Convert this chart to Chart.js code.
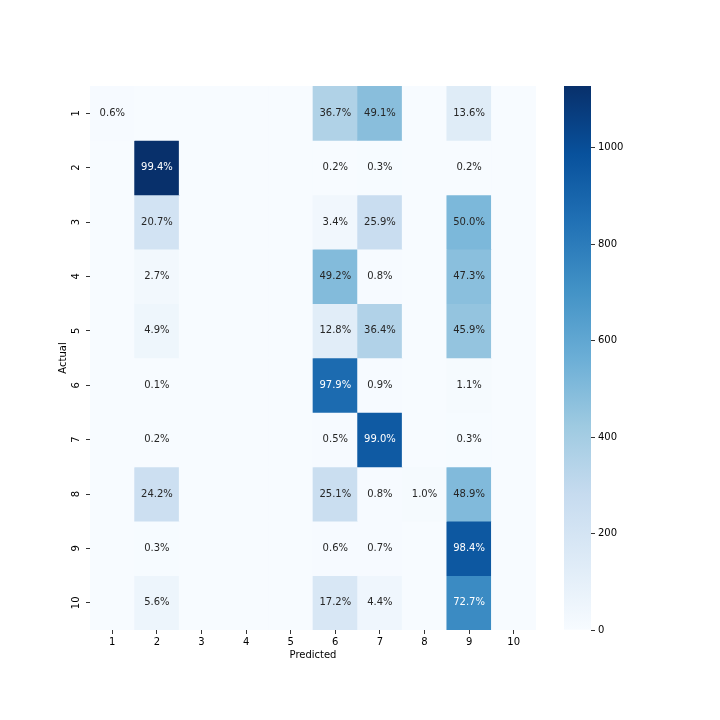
<!DOCTYPE html>
<html>
<head>
<meta charset="utf-8">
<script src="https://cdn.jsdelivr.net/npm/chart.js@4"></script>
<style>
  body { margin: 0; background: #fff; }
  #wrap { position: relative; width: 720px; height: 720px; }
  #heat { position: absolute; left: 0; top: 0; }
  #cbar { position: absolute; left: 540px; top: 0; }
</style>
</head>
<body>
<div id="wrap">
  <canvas id="heat" width="560" height="720"></canvas>
  <canvas id="cbar" width="180" height="720"></canvas>
</div>
<script>
// predicted classes (columns) and actual classes (rows)
var colLabels = ["1","2","3","4","5","6","7","8","9","10"];
var rowLabels = ["1","2","3","4","5","6","7","8","9","10"];

// counts per actual row
var row1  = [6, 0, 0, 0, 0, 360, 481, 0, 133, 0];
var row2  = [0, 1128, 0, 0, 0, 2, 3, 0, 2, 0];
var row3  = [0, 214, 0, 0, 0, 35, 267, 0, 516, 0];
var row4  = [0, 27, 0, 0, 0, 497, 8, 0, 478, 0];
var row5  = [0, 48, 0, 0, 0, 126, 357, 0, 451, 0];
var row6  = [0, 1, 0, 0, 0, 873, 8, 0, 10, 0];
var row7  = [0, 2, 0, 0, 0, 5, 948, 0, 3, 0];
var row8  = [0, 249, 0, 0, 0, 258, 8, 10, 503, 0];
var row9  = [0, 3, 0, 0, 0, 6, 7, 0, 958, 0];
var row10 = [0, 57, 0, 0, 0, 174, 44, 0, 734, 0];
var rows = [row1, row2, row3, row4, row5, row6, row7, row8, row9, row10];

var cbarTicks = [0, 200, 400, 600, 800, 1000];

// matplotlib "Blues"
var blues = [
  [247,251,255],[222,235,247],[198,219,239],[158,202,225],[107,174,214],
  [66,146,198],[33,113,181],[8,81,156],[8,48,107]
];
var vmax = Math.max.apply(null, rows.map(function (r) { return Math.max.apply(null, r); }));

function bluesRGB(t) {
  t = Math.min(1, Math.max(0, t));
  var p = t * (blues.length - 1);
  var i = Math.min(blues.length - 2, Math.floor(p));
  var f = p - i;
  return blues[i].map(function (c, k) { return Math.round(c + (blues[i + 1][k] - c) * f); });
}
function rgbStr(c) { return "rgb(" + c[0] + "," + c[1] + "," + c[2] + ")"; }
function lum(c) {
  var v = c.map(function (x) {
    x = x / 255;
    return x <= 0.03928 ? x / 12.92 : Math.pow((x + 0.055) / 1.055, 2.4);
  });
  return 0.2126 * v[0] + 0.7152 * v[1] + 0.0722 * v[2];
}

Chart.defaults.font.family = "DejaVu Sans";
Chart.defaults.font.size = 10;
Chart.defaults.color = "#000";

var datasets = rows.map(function (r, i) {
  return {
    label: rowLabels[i],
    data: r.map(function () { return 1; }),
    backgroundColor: r.map(function (v) { return rgbStr(bluesRGB(v / vmax)); }),
    borderWidth: 0,
    barPercentage: 1,
    categoryPercentage: 1
  };
});

// percentage labels in each non-empty cell
var annotate = {
  id: "annotate",
  afterDatasetsDraw: function (chart) {
    var ctx = chart.ctx;
    ctx.save();
    ctx.font = "10px 'DejaVu Sans'";
    ctx.textAlign = "center";
    ctx.textBaseline = "middle";
    rows.forEach(function (r, i) {
      var total = r.reduce(function (a, b) { return a + b; }, 0);
      var meta = chart.getDatasetMeta(i);
      r.forEach(function (v, j) {
        if (!v) return;
        var el = meta.data[j];
        var c = bluesRGB(v / vmax);
        ctx.fillStyle = lum(c) > 0.408 ? "#262626" : "#fff";
        ctx.fillText((v / total * 100).toFixed(1) + "%", el.x, (el.y + el.base) / 2);
      });
    });
    ctx.restore();
  }
};

var ctx = document.getElementById("heat").getContext("2d");
var heat = new Chart(ctx, {
  type: "bar",
  data: { labels: colLabels, datasets: datasets },
  options: {
    responsive: false,
    animation: false,
    devicePixelRatio: 1,
    layout: { padding: { left: 57, top: 86, right: 24, bottom: 59 } },
    plugins: { legend: { display: false }, tooltip: { enabled: false } },
    scales: {
      x: {
        stacked: true,
        offset: true,
        grid: { offset: false, drawOnChartArea: false, tickLength: 4, color: "#000", tickWidth: 0.8 },
        border: { display: false },
        ticks: { padding: 2, maxRotation: 0 },
        title: { display: true, text: "Predicted", padding: 0 },
        afterFit: function (s) { s.height = 31; }
      },
      y: {
        stacked: true,
        reverse: true,
        min: 0,
        max: 10,
        grid: { drawOnChartArea: false, tickLength: 4, color: "#000", tickWidth: 0.8 },
        border: { display: false },
        afterBuildTicks: function (s) {
          s.ticks = rowLabels.map(function (l, i) { return { value: i + 0.5 }; });
        },
        ticks: {
          minRotation: 90,
          maxRotation: 90,
          crossAlign: "center",
          padding: 3,
          callback: function (v) { return rowLabels[Math.round(v - 0.5)]; }
        },
        title: { display: true, text: "Actual", padding: 0 },
        afterFit: function (s) { s.width = 33; }
      }
    }
  },
  plugins: [annotate]
});

// colour bar
var ctx2 = document.getElementById("cbar").getContext("2d");
var cbar = new Chart(ctx2, {
  type: "bar",
  data: {
    labels: [""],
    datasets: [{
      data: [[0, vmax]],
      borderWidth: 0,
      barPercentage: 1,
      categoryPercentage: 1,
      backgroundColor: function (c) {
        var area = c.chart.chartArea;
        if (!area) return "#fff";
        var g = c.chart.ctx.createLinearGradient(0, area.bottom, 0, area.top);
        blues.forEach(function (b, k) { g.addColorStop(k / (blues.length - 1), rgbStr(b)); });
        return g;
      }
    }]
  },
  options: {
    responsive: false,
    animation: false,
    devicePixelRatio: 1,
    layout: { padding: { left: 24, top: 86, right: 69, bottom: 90 } },
    plugins: { legend: { display: false }, tooltip: { enabled: false } },
    scales: {
      x: { display: false },
      y: {
        position: "right",
        min: 0,
        max: vmax,
        grid: { drawOnChartArea: false, tickLength: 4, color: "#000", tickWidth: 0.8 },
        border: { display: false },
        afterBuildTicks: function (s) {
          s.ticks = cbarTicks.map(function (v) { return { value: v }; });
        },
        ticks: { padding: 3, callback: function (v) { return String(v); } },
        afterFit: function (s) { s.width = 60; }
      }
    }
  }
});
</script>
</body>
</html>
